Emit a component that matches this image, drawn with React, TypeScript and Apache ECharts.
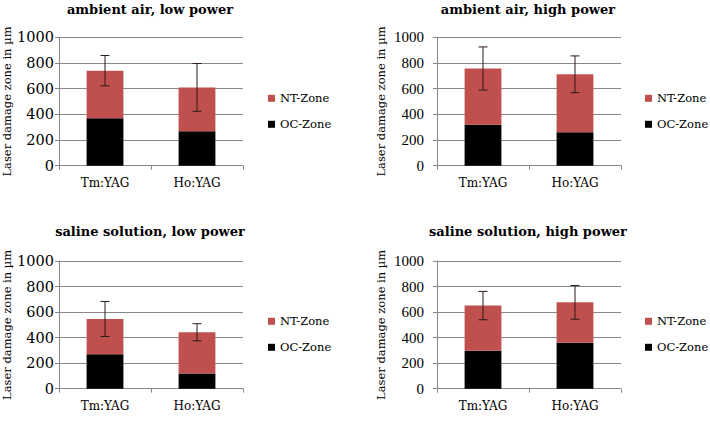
import React, { useEffect, useRef } from "react";
import * as echarts from "echarts";

const categories = ["Tm:YAG", "Ho:YAG"];
const panelTitles = [
  "ambient air, low power",
  "ambient air, high power",
  "saline solution, low power",
  "saline solution, high power",
];
// OC-Zone (bottom of stack)
const ocValues = [
  [370, 268],
  [318, 260],
  [270, 120],
  [298, 360],
];
// NT-Zone (stacked on top)
const ntValues = [
  [370, 342],
  [439, 452],
  [276, 322],
  [353, 316],
];
// +/- error on the total
const errValues = [
  [118, 186],
  [168, 143],
  [137, 67],
  [111, 132],
];
const yMin = 0;
const yMax = 1000;
const yInterval = 200;
const yAxisName = "Laser damage zone in µm";
const legendNames = ["NT-Zone", "OC-Zone"];

const NT_COLOR = "#C0504D";
const OC_COLOR = "#000000";
const GRID_COLOR = "#888888";

const gridBoxes = [
  { left: 59, top: 37.3, width: 184, height: 128.4 },
  { left: 437, top: 37.3, width: 184, height: 128.4 },
  { left: 59, top: 261, width: 184, height: 127.7 },
  { left: 437, top: 261, width: 184, height: 127.7 },
];
const titlePos = [
  { x: 150, y: 3 },
  { x: 528, y: 3 },
  { x: 150, y: 225 },
  { x: 528, y: 225 },
];
const legendPos = [
  { left: 268, top: 91.3 },
  { left: 645, top: 91.3 },
  { left: 268, top: 314.3 },
  { left: 645, top: 314.3 },
];
const yLabelStyle = [
  { fontFamily: "DejaVu Serif", fontSize: 14.5, margin: 5 },
  { fontFamily: "Liberation Serif", fontSize: 15, margin: 13 },
  { fontFamily: "DejaVu Serif", fontSize: 14.5, margin: 5 },
  { fontFamily: "Liberation Serif", fontSize: 15, margin: 13 },
];
const yNameGap = [46, 50, 46, 50];

function buildOption() {
  const grid = gridBoxes.map((g) => ({ ...g, containLabel: false }));
  const title = panelTitles.map((t, i) => ({
    text: t,
    left: titlePos[i].x,
    top: titlePos[i].y,
    textAlign: "center",
    padding: 0,
    textStyle: {
      fontFamily: "DejaVu Serif",
      fontWeight: "bold",
      fontSize: 13,
      color: "#000",
    },
  }));
  const legend = legendPos.map((p) => ({
    data: legendNames,
    orient: "vertical",
    left: p.left,
    top: p.top,
    icon: "rect",
    itemWidth: 7,
    itemHeight: 7,
    itemGap: 12,
    padding: 0,
    selectedMode: false,
    formatter: "{s|{name}}",
    textStyle: {
      fontFamily: "DejaVu Serif",
      fontSize: 11.5,
      lineHeight: 14,
      color: "#000",
      rich: {
        s: {
          fontFamily: "DejaVu Serif",
          fontSize: 11.5,
          lineHeight: 14,
          color: "#000",
        },
      },
    },
  }));
  const xAxis = gridBoxes.map((_, i) => ({
    type: "category",
    gridIndex: i,
    data: categories,
    axisLine: { lineStyle: { color: GRID_COLOR, width: 1 } },
    axisTick: { show: true, length: 4, lineStyle: { color: GRID_COLOR } },
    axisLabel: {
      fontFamily: "DejaVu Serif",
      fontSize: 12,
      color: "#000",
      margin: 11,
    },
  }));
  const yAxis = gridBoxes.map((_, i) => ({
    type: "value",
    gridIndex: i,
    min: yMin,
    max: yMax,
    interval: yInterval,
    name: yAxisName,
    nameLocation: "middle",
    nameRotate: 90,
    nameGap: yNameGap[i],
    nameTextStyle: {
      fontFamily: "DejaVu Serif",
      fontSize: 11.5,
      color: "#000",
    },
    axisLine: { show: true, lineStyle: { color: GRID_COLOR, width: 1 } },
    axisTick: { show: true, length: 4, lineStyle: { color: GRID_COLOR } },
    splitLine: { show: true, lineStyle: { color: GRID_COLOR, width: 1 } },
    axisLabel: {
      fontFamily: yLabelStyle[i].fontFamily,
      fontSize: yLabelStyle[i].fontSize,
      margin: yLabelStyle[i].margin,
      color: "#000",
      formatter: (v: number) => String(v),
    },
  }));
  const series: any[] = [];
  gridBoxes.forEach((_, i) => {
    series.push({
      name: "OC-Zone",
      type: "bar",
      xAxisIndex: i,
      yAxisIndex: i,
      stack: "p" + i,
      barWidth: "40%",
      itemStyle: { color: OC_COLOR },
      data: ocValues[i],
    });
    series.push({
      name: "NT-Zone",
      type: "bar",
      xAxisIndex: i,
      yAxisIndex: i,
      stack: "p" + i,
      barWidth: "40%",
      itemStyle: { color: NT_COLOR },
      data: ntValues[i],
    });
    const errData = categories.map((_, k) => {
      const total = ocValues[i][k] + ntValues[i][k];
      return [k, total - errValues[i][k], total + errValues[i][k]];
    });
    series.push({
      type: "custom",
      xAxisIndex: i,
      yAxisIndex: i,
      z: 10,
      encode: { x: 0, y: [1, 2] },
      data: errData,
      renderItem: (params: any, api: any) => {
        const x = api.value(0);
        const lo = api.coord([x, api.value(1)]);
        const hi = api.coord([x, api.value(2)]);
        const hw = 4.5;
        const style = { stroke: "#2a1a1a", lineWidth: 1 };
        return {
          type: "group",
          children: [
            { type: "line", shape: { x1: lo[0], y1: lo[1], x2: hi[0], y2: hi[1] }, style },
            { type: "line", shape: { x1: lo[0] - hw, y1: lo[1], x2: lo[0] + hw, y2: lo[1] }, style },
            { type: "line", shape: { x1: hi[0] - hw, y1: hi[1], x2: hi[0] + hw, y2: hi[1] }, style },
          ],
        };
      },
    });
  });
  return {
    animation: false,
    backgroundColor: "#ffffff",
    textStyle: { fontFamily: "DejaVu Serif" },
    title,
    legend,
    grid,
    xAxis,
    yAxis,
    series,
  };
}

export default function App() {
  const ref = useRef<HTMLDivElement>(null);
  useEffect(() => {
    if (!ref.current) return;
    const chart = echarts.init(ref.current, undefined, { renderer: "svg" });
    chart.setOption(buildOption() as any);
    return () => chart.dispose();
  }, []);
  return (
    <div
      ref={ref}
      style={{ position: "absolute", left: 0, top: 0, width: 710, height: 445 }}
    />
  );
}
